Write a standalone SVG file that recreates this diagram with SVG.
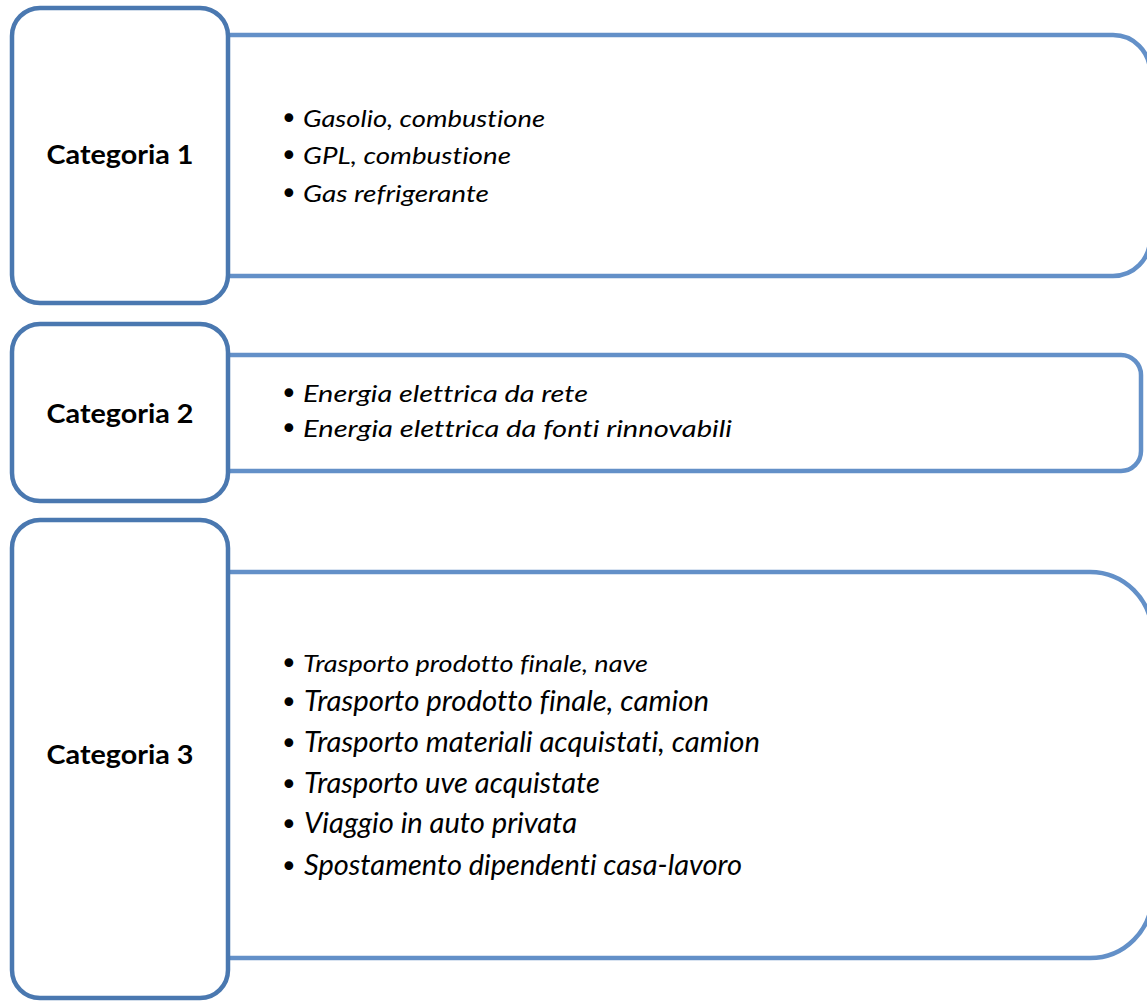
<svg xmlns="http://www.w3.org/2000/svg" width="1147" height="1003" viewBox="0 0 1147 1003">
<style>
text{font-variant-ligatures:none;font-feature-settings:"liga" 0,"clig" 0,"dlig" 0}
.cat{fill:#fff;stroke:#4a78b0;stroke-width:4.5}
.lst{fill:#fff;stroke:#6390c8;stroke-width:4.5}
.lbl{font-family:Lato,"Open Sans",sans-serif;font-weight:bold;font-size:27px;fill:#000}
.it{font-family:Lato,"Open Sans",sans-serif;font-style:italic;font-size:24px;fill:#000}
.it2{font-family:Lato,"Open Sans",sans-serif;font-style:italic;font-size:28.5px;fill:#000}
.bul{font-family:"DejaVu Sans",sans-serif;font-size:30px;fill:#000}
</style>
<rect width="1147" height="1003" fill="#fff"/>
<g id="lists">
<g id="list1">
<path class="lst" d="M200 35H1113A37 37 0 0 1 1150 72V239A37 37 0 0 1 1113 276H200Z"/>
<text class="bul" x="280" y="129">•</text><text class="it" x="303" y="127" textLength="242" lengthAdjust="spacingAndGlyphs">Gasolio, combustione</text>
<text class="bul" x="280" y="166">•</text><text class="it" x="303" y="164" textLength="208" lengthAdjust="spacingAndGlyphs">GPL, combustione</text>
<text class="bul" x="280" y="204">•</text><text class="it" x="303" y="202" textLength="186" lengthAdjust="spacingAndGlyphs">Gas refrigerante</text>
</g>
<g id="list2">
<path class="lst" d="M200 355H1121A20 20 0 0 1 1141 375V451A20 20 0 0 1 1121 471H200Z"/>
<text class="bul" x="280" y="404">•</text><text class="it" x="303" y="402" textLength="285" lengthAdjust="spacingAndGlyphs">Energia elettrica da rete</text>
<text class="bul" x="280" y="439">•</text><text class="it" x="303" y="437" textLength="429" lengthAdjust="spacingAndGlyphs">Energia elettrica da fonti rinnovabili</text>
</g>
<g id="list3">
<path class="lst" d="M200 572H1090A62 62 0 0 1 1152 634V896A62 62 0 0 1 1090 958H200Z"/>
<text class="bul" x="280" y="674">•</text><text class="it" x="303" y="672" textLength="345" lengthAdjust="spacingAndGlyphs">Trasporto prodotto finale, nave</text>
<text class="bul" x="280" y="713">•</text><text class="it2" x="304" y="711" textLength="405" lengthAdjust="spacingAndGlyphs">Trasporto prodotto finale, camion</text>
<text class="bul" x="280" y="754">•</text><text class="it2" x="304" y="752" textLength="456" lengthAdjust="spacingAndGlyphs">Trasporto materiali acquistati, camion</text>
<text class="bul" x="280" y="795">•</text><text class="it2" x="304" y="793" textLength="296" lengthAdjust="spacingAndGlyphs">Trasporto uve acquistate</text>
<text class="bul" x="280" y="835">•</text><text class="it2" x="304" y="833" textLength="273" lengthAdjust="spacingAndGlyphs">Viaggio in auto privata</text>
<text class="bul" x="280" y="877">•</text><text class="it2" x="304" y="875" textLength="438" lengthAdjust="spacingAndGlyphs">Spostamento dipendenti casa-lavoro</text>
</g>
</g>
<g id="cat1"><rect class="cat" x="12" y="8" width="216" height="295" rx="28"/><text class="lbl" x="120" y="164" text-anchor="middle" textLength="147" lengthAdjust="spacingAndGlyphs">Categoria 1</text></g>
<g id="cat2"><rect class="cat" x="12" y="324" width="216" height="177" rx="28"/><text class="lbl" x="120" y="423" text-anchor="middle" textLength="147" lengthAdjust="spacingAndGlyphs">Categoria 2</text></g>
<g id="cat3"><rect class="cat" x="12" y="520" width="216" height="478" rx="28"/><text class="lbl" x="120" y="764" text-anchor="middle" textLength="147" lengthAdjust="spacingAndGlyphs">Categoria 3</text></g>
<g id="connectors"></g>
</svg>
